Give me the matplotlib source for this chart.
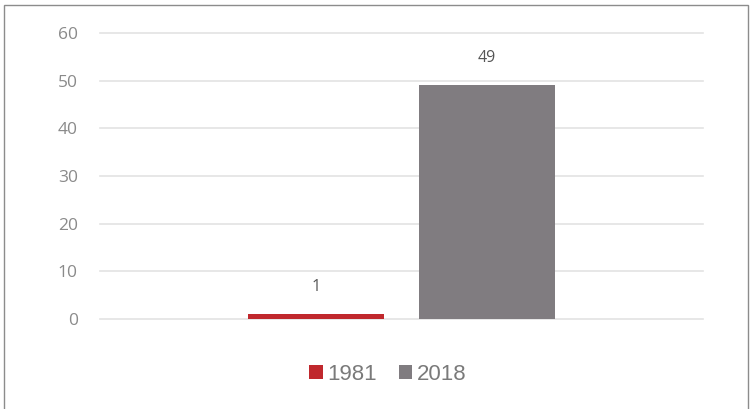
import matplotlib
matplotlib.use("Agg")
import matplotlib.pyplot as plt
from matplotlib.patches import Rectangle

series = ["1981", "2018"]
values = [1, 49]
colors = ["#c0282d", "#807c80"]
yticks = [0, 10, 20, 30, 40, 50, 60]

W, H = 754, 409
fig = plt.figure(figsize=(W / 100, H / 100), dpi=100)
fig.patch.set_facecolor("white")
fig.add_artist(Rectangle((4 / W, -0.01), (748 - 4) / W, (H - 5) / H + 0.01,
                         transform=fig.transFigure, fill=False,
                         edgecolor="#8c8c8c", linewidth=1.0))

ax = fig.add_axes([100 / W, 1 - 319 / H, (703 - 100) / W, (319 - 33) / H])
ax.set_xlim(-0.5, 0.5)
ax.set_ylim(0, 60)

width = 136 / 603
offsets = [-85.5 / 603, 85.5 / 603]
handles = []
for s, v, c, o in zip(series, values, colors, offsets):
    b = ax.bar(o, v, width=width, color=c, label=s, zorder=3)
    handles.append(b)
    ax.text(o, v + 5.7, str(v), ha="center", va="center", fontsize=11.5,
            family="Open Sans", color="#555555")

ax.set_yticks(yticks)
ax.set_yticklabels([str(t) for t in yticks], color="#8a8a8a", fontsize=12.5,
                   family="Open Sans")
ax.tick_params(axis="y", length=0, pad=16)
ax.set_xticks([])
ax.grid(axis="y", color="#e3e3e3", linewidth=1.2, zorder=0)
for gl in ax.get_ygridlines():
    gl.set_clip_on(False)
for sp in ax.spines.values():
    sp.set_visible(False)

leg = fig.legend(handles=handles, labels=series, loc="center",
                 bbox_to_anchor=(388 / W, 1 - 374 / H), ncol=2, frameon=False,
                 prop={"family": "Liberation Sans", "size": 16},
                 handlelength=0.6, handleheight=0.6,
                 handletextpad=0.2, columnspacing=1.0)
for t in leg.get_texts():
    t.set_color("#7a7a7a")

fig.savefig("out.png", dpi=100)
